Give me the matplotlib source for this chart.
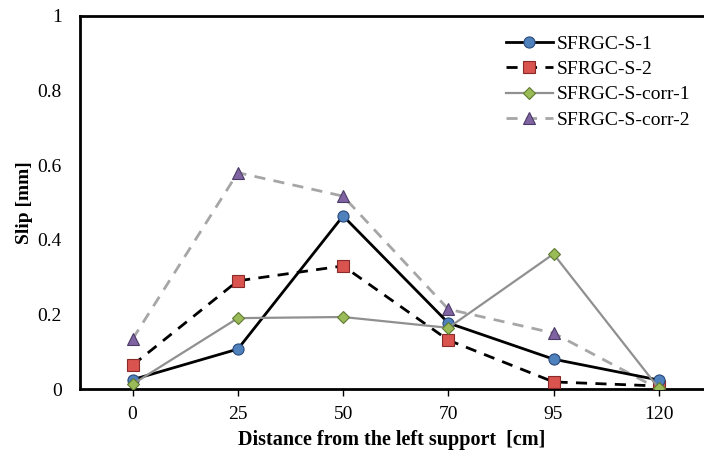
import matplotlib
matplotlib.use("Agg")
import matplotlib.pyplot as plt

categories = ["0", "25", "50", "70", "95", "120"]
s1 = [0.025, 0.107, 0.464, 0.177, 0.080, 0.024]
s2 = [0.064, 0.290, 0.330, 0.131, 0.019, 0.008]
corr1 = [0.013, 0.190, 0.193, 0.164, 0.362, 0.002]
corr2 = [0.134, 0.580, 0.517, 0.214, 0.150, 0.000]
yticks = [0, 0.2, 0.4, 0.6, 0.8, 1]
ytick_labels = ["0", "0.2", "0.4", "0.6", "0.8", "1"]

plt.rcParams['font.family'] = ['Liberation Serif', 'DejaVu Serif']

fig = plt.figure(figsize=(7.04, 4.57), dpi=100)
ax = fig.add_axes([80/704, 1-389/457, (704-80)/704, (389-16)/457])

x = list(range(len(categories)))
ax.plot(x, s1, color='black', lw=2, ls='-', marker='o', ms=8,
        mfc='#4F81BD', mec='#2a4a7a', mew=0.8, label='SFRGC-S-1', zorder=4)
ax.plot(x, s2, color='black', lw=2, ls=(0, (4, 3)), marker='s', ms=8,
        mfc='#D9534F', mec='#8a2a28', mew=0.8, label='SFRGC-S-2', zorder=3)
ax.plot(x, corr1, color='#909090', lw=1.6, ls='-', marker='D', ms=6.5,
        mfc='#9BBB59', mec='#5f7a30', mew=0.8, label='SFRGC-S-corr-1', zorder=5)
ax.plot(x, corr2, color='#A6A6A6', lw=2, ls=(0, (4, 3)), marker='^', ms=8,
        mfc='#8064A2', mec='#4a3a66', mew=0.8, label='SFRGC-S-corr-2', zorder=2)

ax.set_xlim(-0.5, 5.43)
ax.set_ylim(0, 1)
ax.set_xticks(x)
ax.set_xticklabels(categories, fontsize=14)
ax.set_yticks(yticks)
ax.set_yticklabels(ytick_labels, fontsize=14)
ax.tick_params(axis='y', length=0, pad=13)
ax.tick_params(axis='x', length=5, width=1, direction='out', pad=7)
for sp in ax.spines.values():
    sp.set_linewidth(2)
ax.spines['right'].set_visible(False)

ax.set_xlabel('Distance from the left support  [cm]', fontsize=14.5, fontweight='bold', labelpad=5)
ax.set_ylabel('Slip [mm]', fontsize=14, fontweight='bold', labelpad=3)

leg = ax.legend(loc='upper left', bbox_to_anchor=(0.67, 0.97), frameon=False,
                fontsize=14, handlelength=2.4, handletextpad=0.2, labelspacing=0.4,
                borderaxespad=0)

fig.savefig('out.png', dpi=100)
